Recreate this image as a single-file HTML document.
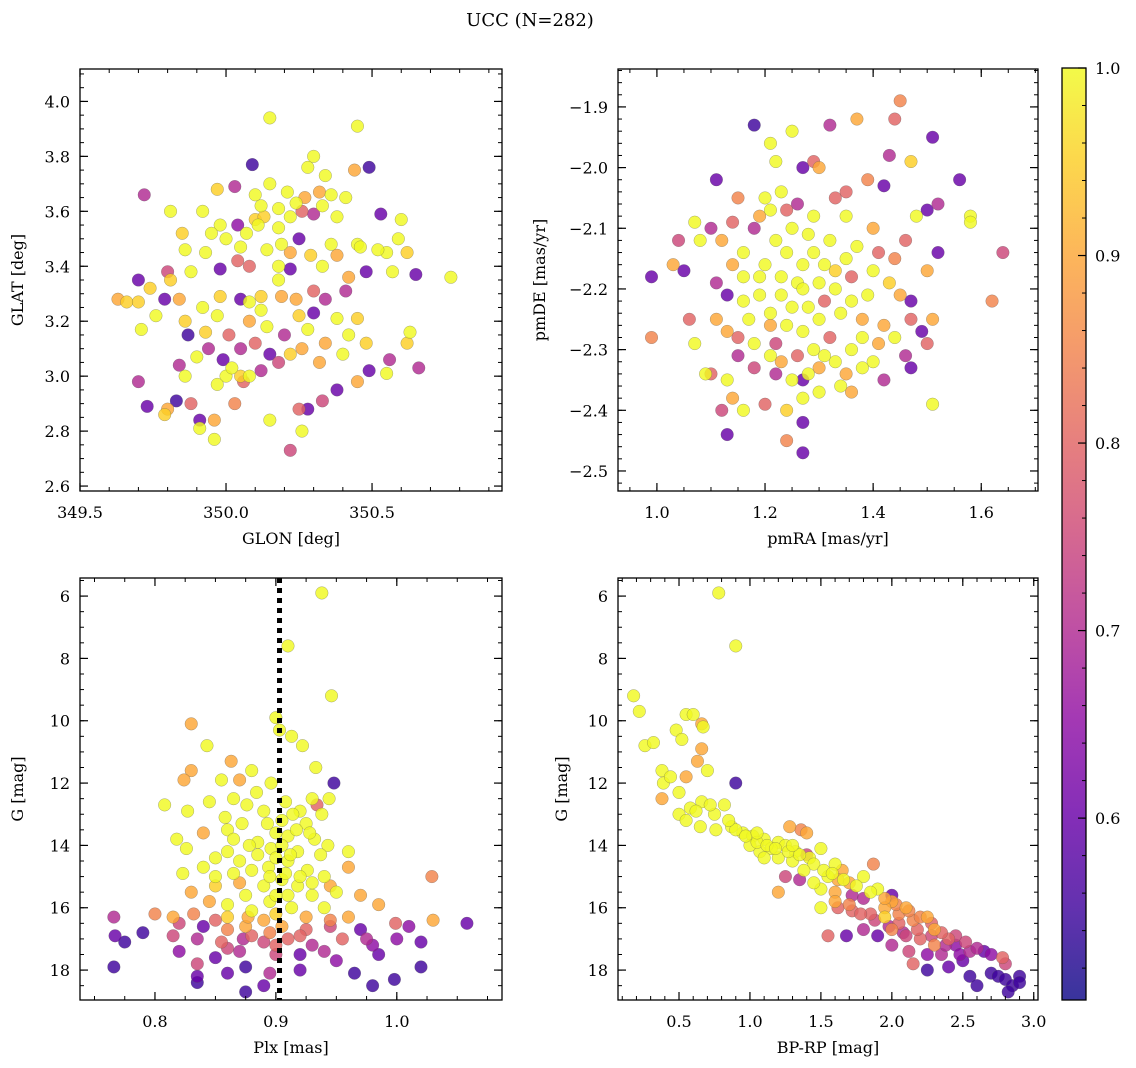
<!DOCTYPE html>
<html><head><meta charset="utf-8">
<style>
html,body{margin:0;padding:0;background:#fff;}
svg{display:block;font-family:"DejaVu Serif","Liberation Serif",serif;}
</style></head>
<body>
<svg id="fig" width="1136" height="1068" viewBox="0 0 1136 1068" xmlns="http://www.w3.org/2000/svg">
<text x="530" y="26" font-size="18" text-anchor="middle">UCC (N=282)</text>
<defs>
<linearGradient id="plasma" x1="0" y1="1" x2="0" y2="0">
<stop offset="0" stop-color="#0d0887"/><stop offset="0.1" stop-color="#41049d"/><stop offset="0.2" stop-color="#6a00a8"/><stop offset="0.3" stop-color="#8f0da4"/><stop offset="0.4" stop-color="#b12a90"/><stop offset="0.5" stop-color="#cc4778"/><stop offset="0.6" stop-color="#e16462"/><stop offset="0.7" stop-color="#f2844b"/><stop offset="0.8" stop-color="#fca636"/><stop offset="0.9" stop-color="#fcce25"/><stop offset="1" stop-color="#f0f921"/>
</linearGradient>
</defs>
</svg>
<script>
// ---- data: [x, y, membership probability] ----
const p1Points = [[350.15,3.94,1.0],[350.45,3.91,1.0],[350.09,3.77,0.55],[350.44,3.75,0.9],[350.49,3.76,0.55],[349.72,3.66,0.7],[349.81,3.60,1.0],[349.97,3.68,0.95],[350.03,3.69,0.7],[349.85,3.52,0.95],[349.92,3.60,1.0],[349.63,3.28,0.9],[349.66,3.27,0.95],[349.70,3.27,0.95],[349.70,3.35,0.6],[349.71,3.17,1.0],[349.70,2.98,0.7],[349.73,2.89,0.6],[349.79,2.86,0.95],[349.80,2.88,0.9],[349.83,2.91,0.55],[349.87,3.15,0.55],[349.91,2.84,0.6],[349.91,2.81,1.0],[349.96,2.77,1.0],[349.96,2.84,0.9],[350.0,3.0,1.0],[350.05,3.0,0.95],[350.08,3.0,1.0],[350.15,2.84,1.0],[350.22,2.73,0.75],[350.26,2.80,1.0],[350.25,2.88,0.8],[350.28,2.88,0.6],[350.33,2.91,0.75],[350.38,2.95,0.6],[350.45,2.98,0.9],[350.49,3.02,0.6],[350.55,3.01,1.0],[350.56,3.06,0.7],[350.66,3.03,0.7],[350.63,3.16,1.0],[350.62,3.12,0.95],[350.65,3.37,0.6],[350.77,3.36,1.0],[350.60,3.57,1.0],[350.59,3.50,1.0],[350.53,3.59,0.6],[350.62,3.45,0.95],[350.55,3.45,1.0],[350.45,3.48,1.0],[350.48,3.38,0.6],[350.41,3.31,0.7],[350.34,3.28,0.7],[350.30,3.23,0.6],[350.25,3.22,0.95],[350.19,3.29,0.9],[350.12,3.24,1.0],[350.05,3.28,0.6],[349.98,3.29,0.95],[349.92,3.25,1.0],[349.86,3.20,0.95],[349.81,3.35,0.95],[349.79,3.28,0.6],[349.80,3.38,0.75],[349.88,3.38,1.0],[349.93,3.45,1.0],[349.98,3.39,0.6],[350.04,3.42,0.8],[350.08,3.40,0.8],[350.14,3.46,1.0],[350.19,3.48,1.0],[350.25,3.50,0.6],[350.29,3.44,0.95],[350.36,3.48,1.0],[350.22,3.58,1.0],[350.10,3.57,0.95],[350.12,3.62,1.0],[350.15,3.70,1.0],[350.21,3.67,1.0],[350.27,3.65,0.9],[350.32,3.67,0.9],[350.36,3.66,1.0],[350.28,3.76,1.0],[350.30,3.80,1.0],[350.34,3.73,1.0],[350.04,3.55,0.65],[349.98,3.55,1.0],[350.18,3.40,1.0],[350.22,3.39,0.6],[350.26,3.60,0.8],[350.30,3.59,0.7],[350.42,3.36,0.9],[350.38,3.21,1.0],[350.45,3.21,0.95],[350.05,3.10,0.7],[350.10,3.12,0.8],[350.15,3.08,0.6],[350.20,3.15,0.7],[350.28,3.17,1.0],[350.32,3.05,0.9],[350.40,3.08,1.0],[349.94,3.10,0.7],[349.99,3.06,0.6],[350.01,3.15,0.8],[350.06,2.98,0.8],[349.86,3.00,1.0],[349.90,3.07,1.0],[350.12,3.29,0.95],[350.08,3.27,1.0],
[350.07,3.52,1.0],[350.11,3.55,1.0],[350.13,3.58,0.95],[350.18,3.61,1.0],[350.24,3.63,1.0],[350.33,3.62,1.0],[350.38,3.58,1.0],[350.41,3.65,1.0],[350.18,3.54,1.0],[350.10,3.66,1.0],[350.05,3.47,1.0],[350.00,3.50,1.0],[349.95,3.52,1.0],[349.86,3.46,1.0],[350.22,3.45,0.9],[350.33,3.40,1.0],[350.38,3.44,0.9],[350.46,3.47,1.0],[350.52,3.46,1.0],[350.57,3.38,1.0],[350.18,3.35,1.0],[350.24,3.28,0.9],[350.30,3.31,0.8],[350.14,3.18,1.0],[350.08,3.20,0.9],[349.97,3.22,1.0],[349.93,3.16,0.95],[349.84,3.28,0.9],[349.74,3.32,0.95],[349.76,3.22,1.0],[350.02,3.03,1.0],[350.12,3.02,0.7],[350.18,3.05,0.75],[350.22,3.08,0.95],[350.26,3.10,0.9],[350.34,3.12,0.9],[350.42,3.15,1.0],[350.48,3.12,0.95],[349.97,2.97,1.0],[350.03,2.90,0.85],[349.88,2.90,0.8],[349.84,3.04,0.7]];
const p2Points = [[1.45,-1.89,0.85],[1.51,-1.95,0.6],[1.18,-1.93,0.55],[1.32,-1.93,0.7],[1.37,-1.92,0.9],[1.25,-1.94,1.0],[1.44,-1.92,0.8],[1.43,-1.98,0.7],[1.47,-1.99,0.95],[1.42,-2.03,0.6],[1.39,-2.02,0.85],[1.56,-2.02,0.6],[1.52,-2.06,0.7],[1.50,-2.07,0.6],[1.58,-2.08,1.0],[1.58,-2.09,1.0],[1.11,-2.02,0.6],[1.21,-1.96,1.0],[1.22,-1.99,1.0],[1.27,-2.00,0.6],[1.29,-1.99,0.8],[1.30,-2.00,0.9],[1.20,-2.05,1.0],[1.21,-2.07,1.0],[1.24,-2.07,0.8],[1.26,-2.06,0.7],[1.33,-2.05,0.8],[1.35,-2.04,0.8],[1.07,-2.09,1.0],[1.10,-2.10,0.7],[1.14,-2.09,0.8],[1.18,-2.10,0.7],[1.25,-2.10,1.0],[1.28,-2.11,1.0],[1.32,-2.12,1.0],[1.37,-2.13,1.0],[1.41,-2.14,0.8],[1.48,-2.08,1.0],[1.52,-2.14,0.6],[1.46,-2.12,0.8],[1.50,-2.17,0.9],[1.64,-2.14,0.75],[1.62,-2.22,0.85],[1.04,-2.12,0.75],[1.05,-2.17,0.6],[1.03,-2.16,0.9],[0.99,-2.18,0.6],[1.08,-2.12,1.0],[1.12,-2.12,0.9],[1.16,-2.14,1.0],[1.20,-2.16,1.0],[1.23,-2.18,1.0],[1.27,-2.16,1.0],[1.30,-2.19,1.0],[1.33,-2.17,0.95],[1.36,-2.18,0.8],[1.40,-2.17,1.0],[1.43,-2.19,0.95],[1.45,-2.21,0.9],[1.47,-2.22,0.6],[1.11,-2.19,0.7],[1.13,-2.21,0.6],[1.16,-2.22,1.0],[1.19,-2.21,1.0],[1.21,-2.24,1.0],[1.25,-2.23,1.0],[1.28,-2.23,1.0],[1.31,-2.22,0.8],[1.34,-2.24,1.0],[1.38,-2.25,0.9],[1.42,-2.26,0.9],[1.47,-2.25,0.8],[1.49,-2.27,0.6],[1.50,-2.29,0.8],[1.51,-2.25,0.9],[1.06,-2.25,0.8],[1.07,-2.29,1.0],[1.11,-2.25,0.9],[1.15,-2.28,0.8],[1.18,-2.29,1.0],[1.22,-2.29,0.75],[1.26,-2.31,0.8],[1.29,-2.30,1.0],[1.32,-2.28,0.8],[1.36,-2.30,1.0],[1.40,-2.32,1.0],[1.46,-2.31,0.7],[1.47,-2.33,0.6],[0.99,-2.28,0.85],[1.10,-2.34,0.8],[1.13,-2.35,1.0],[1.15,-2.31,0.7],[1.18,-2.33,0.75],[1.22,-2.34,0.7],[1.25,-2.35,1.0],[1.27,-2.35,0.6],[1.30,-2.37,1.0],[1.34,-2.36,1.0],[1.36,-2.37,0.9],[1.42,-2.35,0.7],[1.51,-2.39,1.0],[1.12,-2.40,0.75],[1.16,-2.40,1.0],[1.20,-2.39,0.8],[1.24,-2.40,0.95],[1.27,-2.38,1.0],[1.13,-2.44,0.6],[1.24,-2.45,0.85],[1.27,-2.42,0.6],[1.27,-2.47,0.6],[1.14,-2.38,0.9],[1.09,-2.34,1.0],
[1.24,-2.14,1.0],[1.26,-2.19,1.0],[1.29,-2.14,1.0],[1.31,-2.16,1.0],[1.35,-2.15,1.0],[1.22,-2.12,1.0],[1.19,-2.18,1.0],[1.23,-2.21,1.0],[1.27,-2.20,1.0],[1.30,-2.25,1.0],[1.33,-2.20,1.0],[1.36,-2.22,1.0],[1.39,-2.21,1.0],[1.24,-2.26,1.0],[1.27,-2.27,1.0],[1.21,-2.26,0.9],[1.17,-2.25,1.0],[1.13,-2.27,0.9],[1.33,-2.32,1.0],[1.30,-2.33,0.9],[1.38,-2.28,1.0],[1.41,-2.29,0.9],[1.44,-2.28,1.0],[1.21,-2.31,1.0],[1.23,-2.32,0.9],[1.28,-2.34,1.0],[1.31,-2.31,1.0],[1.35,-2.34,0.9],[1.38,-2.33,1.0],[1.16,-2.18,1.0],[1.14,-2.16,0.9],[1.40,-2.10,0.9],[1.44,-2.15,0.85],[1.35,-2.08,1.0],[1.29,-2.08,1.0],[1.23,-2.04,1.0],[1.19,-2.08,0.9],[1.15,-2.05,0.85]];
const p3Points = [[0.938,5.9,1.0],[0.91,7.6,1.0],[0.946,9.2,1.0],[0.830,10.1,0.9],[0.900,9.9,1.0],[0.903,10.3,1.0],[0.913,10.5,1.0],[0.922,10.8,1.0],[0.843,10.8,1.0],[0.863,11.3,0.9],[0.933,11.5,1.0],[0.830,11.6,0.9],[0.824,11.9,0.9],[0.855,11.9,1.0],[0.880,11.6,1.0],[0.948,12.0,0.55],[0.808,12.7,1.0],[0.827,12.9,1.0],[0.845,12.6,1.0],[0.884,12.3,1.0],[0.896,12.0,1.0],[0.934,12.7,0.8],[0.944,12.5,1.0],[0.92,12.9,1.0],[0.938,13.0,1.0],[0.905,13.2,1.0],[0.893,13.3,1.0],[0.872,13.3,1.0],[0.858,13.1,1.0],[0.86,13.5,1.0],[0.84,13.6,0.9],[0.818,13.8,1.0],[0.826,14.1,1.0],[0.885,13.9,1.0],[0.896,14.1,1.0],[0.91,13.7,1.0],[0.918,14.2,1.0],[0.932,13.8,1.0],[0.943,14.0,1.0],[0.96,14.2,1.0],[0.86,14.2,1.0],[0.87,14.5,1.0],[0.894,14.7,1.0],[0.91,14.5,1.0],[0.926,14.8,1.0],[0.94,15.0,1.0],[0.96,14.7,0.9],[0.84,14.7,1.0],[0.823,14.9,1.0],[0.85,15.0,1.0],[0.87,15.2,0.9],[0.89,15.3,1.0],[0.905,15.1,1.0],[0.918,15.3,1.0],[0.93,15.6,1.0],[0.95,15.5,1.0],[0.97,15.6,0.9],[0.985,15.9,0.9],[1.029,15.0,0.85],[0.83,15.5,0.9],[0.845,15.8,0.9],[0.86,15.9,1.0],[0.88,16.1,1.0],[0.895,15.8,1.0],[0.913,16.0,1.0],[0.94,16.0,1.0],[0.96,16.3,0.9],[0.8,16.2,0.85],[0.766,16.3,0.7],[0.82,16.5,0.75],[0.84,16.6,0.6],[0.86,16.7,0.85],[0.875,16.6,0.9],[0.89,16.4,0.9],[0.905,16.6,0.9],[0.925,16.7,0.8],[0.945,16.6,0.75],[0.97,16.7,0.6],[0.999,16.5,0.8],[1.03,16.4,0.9],[1.058,16.5,0.6],[1.01,16.6,0.65],[0.767,16.9,0.6],[0.79,16.8,0.55],[0.815,16.9,0.75],[0.835,17.0,0.7],[0.855,17.1,0.8],[0.873,17.0,0.7],[0.89,17.1,0.75],[0.91,17.0,0.8],[0.93,17.2,0.7],[0.955,17.0,0.8],[0.98,17.2,0.65],[1.0,17.0,0.65],[1.02,17.1,0.6],[0.775,17.1,0.55],[0.82,17.4,0.65],[0.85,17.6,0.6],[0.87,17.4,0.7],[0.9,17.5,0.75],[0.92,17.5,0.6],[0.95,17.7,0.65],[0.985,17.5,0.6],[0.766,17.9,0.55],[0.835,17.8,0.75],[0.86,18.1,0.6],[0.875,17.9,0.55],[0.895,18.1,0.7],[0.92,18.0,0.6],[0.965,18.1,0.55],[0.998,18.3,0.55],[1.02,17.9,0.55],[0.835,18.4,0.55],[0.875,18.7,0.55],[0.89,18.5,0.6],[0.98,18.5,0.55],[0.835,18.2,0.6],
[0.908,12.6,1.0],[0.914,13.0,1.0],[0.925,13.3,1.0],[0.93,12.5,1.0],[0.9,13.6,1.0],[0.917,13.5,1.0],[0.928,13.6,1.0],[0.937,14.3,1.0],[0.905,14.0,1.0],[0.912,14.3,1.0],[0.9,14.4,1.0],[0.885,14.3,1.0],[0.878,14.0,1.0],[0.865,13.8,1.0],[0.85,14.4,1.0],[0.92,15.0,1.0],[0.908,14.9,1.0],[0.895,15.0,1.0],[0.88,14.8,1.0],[0.865,14.9,1.0],[0.85,15.3,0.95],[0.93,15.2,1.0],[0.945,15.3,0.9],[0.91,15.6,1.0],[0.9,15.6,1.0],[0.875,15.6,1.0],[0.86,16.3,0.95],[0.877,16.3,0.9],[0.9,16.2,0.95],[0.925,16.3,0.9],[0.945,16.4,0.85],[0.85,16.4,0.8],[0.832,16.2,0.85],[0.815,16.3,0.9],[0.895,16.8,0.85],[0.92,16.9,0.8],[0.88,16.9,0.8],[0.86,17.3,0.75],[0.9,17.2,0.8],[0.94,17.4,0.7],[0.975,17.0,0.7],[0.89,12.9,1.0],[0.876,12.7,1.0],[0.865,12.5,1.0],[0.87,11.9,0.9]];
const p4Points = [[0.18,9.2,1.0],[0.22,9.7,1.0],[0.26,10.8,1.0],[0.32,10.7,1.0],[0.78,5.9,1.0],[0.9,7.6,1.0],[0.55,9.8,1.0],[0.6,9.8,1.0],[0.66,10.1,0.9],[0.67,10.2,1.0],[0.48,10.3,1.0],[0.52,10.6,1.0],[0.66,10.9,0.9],[0.38,11.6,1.0],[0.39,12.0,1.0],[0.38,12.5,0.9],[0.5,12.3,1.0],[0.55,11.8,0.9],[0.63,11.3,0.9],[0.7,11.6,1.0],[0.9,12.0,0.55],[0.5,13.0,1.0],[0.58,12.8,1.0],[0.66,12.6,1.0],[0.75,13.0,1.0],[0.82,12.7,1.0],[0.55,13.2,1.0],[0.65,13.4,1.0],[0.76,13.5,1.0],[0.87,13.4,1.0],[0.95,13.6,1.0],[1.02,13.7,1.0],[1.1,13.8,1.0],[1.2,13.9,1.0],[1.28,13.4,0.9],[1.36,13.5,0.85],[1.4,13.6,0.9],[1.5,14.1,1.0],[1.15,14.1,1.0],[1.25,14.0,1.0],[1.32,14.2,1.0],[1.42,14.4,1.0],[1.2,14.4,1.0],[1.3,14.5,1.0],[1.4,14.3,0.75],[1.07,14.2,1.0],[1.0,14.0,1.0],[1.25,15.0,0.75],[1.35,15.1,0.7],[1.6,14.6,1.0],[1.65,14.8,0.9],[1.55,15.0,1.0],[1.62,15.1,0.9],[1.7,15.2,0.9],[1.8,15.0,1.0],[1.87,14.6,0.85],[1.5,15.4,1.0],[1.6,15.5,0.9],[1.72,15.6,0.7],[1.8,15.7,0.7],[1.9,15.4,1.0],[2.0,15.6,0.6],[2.0,15.8,0.9],[1.5,16.0,1.0],[1.62,16.0,0.8],[1.72,16.1,0.8],[1.85,16.2,0.8],[1.95,16.0,0.9],[2.05,16.2,0.85],[2.1,16.0,0.9],[2.15,16.4,0.85],[2.25,16.3,0.9],[2.3,16.7,0.9],[1.2,15.5,0.9],[1.55,16.9,0.8],[1.68,16.9,0.6],[1.8,16.7,0.7],[1.9,16.9,0.6],[2.0,16.7,0.85],[2.1,16.9,0.75],[2.2,17.0,0.8],[2.3,17.2,0.85],[2.4,17.0,0.8],[2.0,17.2,0.7],[2.12,17.4,0.75],[2.25,17.5,0.65],[2.35,17.5,0.7],[2.45,17.2,0.65],[2.55,17.4,0.7],[2.65,17.4,0.6],[2.78,17.6,0.8],[2.8,17.8,0.75],[2.5,17.7,0.6],[2.4,17.9,0.6],[2.25,18.0,0.55],[2.15,17.8,0.8],[2.55,18.2,0.55],[2.7,18.1,0.55],[2.75,18.2,0.55],[2.8,18.3,0.55],[2.9,18.2,0.55],[2.6,18.5,0.55],[2.85,18.5,0.55],[2.9,18.4,0.55],[2.82,18.7,0.55],[1.95,16.3,0.95],[2.05,16.5,0.8],
[0.9,13.5,1.0],[0.97,13.7,1.0],[1.05,13.9,1.0],[1.12,14.0,1.0],[1.18,14.1,1.0],[1.27,14.2,1.0],[1.35,14.3,1.0],[1.45,14.6,1.0],[1.52,14.8,1.0],[1.58,14.9,1.0],[1.66,15.1,1.0],[1.75,15.3,1.0],[1.85,15.5,1.0],[1.95,15.7,0.9],[2.03,15.9,0.85],[2.12,16.1,0.85],[2.2,16.3,0.85],[2.28,16.5,0.8],[2.35,16.8,0.8],[2.45,16.9,0.75],[2.52,17.1,0.75],[2.6,17.3,0.7],[2.7,17.5,0.65],[1.7,15.9,0.85],[1.78,16.2,0.8],[1.88,16.4,0.75],[1.98,16.6,0.7],[2.08,16.8,0.7],[2.18,16.7,0.8],[2.28,16.9,0.75],[2.38,17.2,0.7],[2.48,17.5,0.65],[1.6,15.8,0.9],[1.45,15.2,1.0],[1.38,14.8,1.0],[1.3,14.0,1.0],[1.1,14.4,1.0],[1.05,13.6,1.0],[0.85,13.2,1.0],[0.72,12.7,1.0],[0.62,12.9,1.0],[0.44,11.8,1.0]];
const p1XTicks = [349.5, 350.0, 350.5];
const p1YTicks = [2.6, 2.8, 3.0, 3.2, 3.4, 3.6, 3.8, 4.0];
const p2XTicks = [1.0, 1.2, 1.4, 1.6];
const p2YTicks = [-2.5, -2.4, -2.3, -2.2, -2.1, -2.0, -1.9];
const p3XTicks = [0.8, 0.9, 1.0];
const gTicks = [6, 8, 10, 12, 14, 16, 18];
const p4XTicks = [0.5, 1.0, 1.5, 2.0, 2.5, 3.0];
const cbarTicks = [0.6, 0.7, 0.8, 0.9, 1.0];
const plxMarker = [0.903];
const probRange = [0.503, 1.0];

const NS = 'http://www.w3.org/2000/svg';
const svg = document.getElementById('fig');
function el(tag, attrs, parent) {
  const e = document.createElementNS(NS, tag);
  for (const k in attrs) e.setAttribute(k, attrs[k]);
  (parent || svg).appendChild(e);
  return e;
}
const stops = [[13,8,135],[65,4,157],[106,0,168],[143,13,164],[177,42,144],[204,71,120],[225,100,98],[242,132,75],[252,166,54],[252,206,37],[240,249,33]];
function plasma(p) {
  let t = (p - probRange[0]) / (probRange[1] - probRange[0]);
  t = Math.max(0, Math.min(1, t)) * 10;
  const i = Math.min(9, Math.floor(t)), f = t - i;
  const a = stops[i], b = stops[i + 1];
  return 'rgb(' + a.map((v, k) => Math.round(v + (b[k] - v) * f)).join(',') + ')';
}
function fmt(v, d) { return v < 0 ? '\u2212' + Math.abs(v).toFixed(d) : v.toFixed(d); }

function panel(o) {
  const g = el('g', {});
  
  
  const sx = v => o.x0 + (v - o.xmin) / (o.xmax - o.xmin) * (o.x1 - o.x0);
  const sy = o.invert ? (v => o.y0 + (v - o.ymin) / (o.ymax - o.ymin) * (o.y1 - o.y0))
                      : (v => o.y1 - (v - o.ymin) / (o.ymax - o.ymin) * (o.y1 - o.y0));
  const clip = el('clipPath', { id: o.name + '-clip' }, g);
  el('rect', { x: o.x0, y: o.y0, width: o.x1 - o.x0, height: o.y1 - o.y0 }, clip);
  const pts = el('g', { 'clip-path': 'url(#' + o.name + '-clip)' }, g);
  
  
  const sorted = o.data.slice().sort((a, b) => a[2] - b[2]);
  sorted.forEach(d => {
    const c = el('circle', { cx: sx(d[0]), cy: sy(d[1]), r: 6.3, fill: plasma(d[2]), 'fill-opacity': 0.82, stroke: '#555', 'stroke-opacity': 0.5, 'stroke-width': 0.5 }, pts);
    
    
  });
  if (o.vline) o.vline.forEach(v => {
    const l = el('line', { x1: sx(v), x2: sx(v), y1: o.y0, y2: o.y1, stroke: '#000', 'stroke-width': 5, 'stroke-dasharray': '5 5' }, g);
    
    
  });
  for (let v = Math.ceil(o.xmin / o.xminor - 1e-9) * o.xminor; v <= o.xmax + 1e-9; v += o.xminor) {
    const x = sx(v);
    el('line', { x1: x, x2: x, y1: o.y1, y2: o.y1 - 4, stroke: '#000', 'stroke-width': 1 }, g);
    el('line', { x1: x, x2: x, y1: o.y0, y2: o.y0 + 4, stroke: '#000', 'stroke-width': 1 }, g);
  }
  for (let v = Math.ceil(o.ymin / o.yminor - 1e-9) * o.yminor; v <= o.ymax + 1e-9; v += o.yminor) {
    const y = sy(v);
    el('line', { x1: o.x0, x2: o.x0 + 4, y1: y, y2: y, stroke: '#000', 'stroke-width': 1 }, g);
    el('line', { x1: o.x1, x2: o.x1 - 4, y1: y, y2: y, stroke: '#000', 'stroke-width': 1 }, g);
  }
  o.xticks.forEach(v => {
    const x = sx(v);
    el('line', { x1: x, x2: x, y1: o.y1, y2: o.y1 - 8, stroke: '#000', 'stroke-width': 1.2 }, g);
    el('line', { x1: x, x2: x, y1: o.y0, y2: o.y0 + 8, stroke: '#000', 'stroke-width': 1.2 }, g);
    const t = el('text', { x: x, y: o.y1 + 27, 'font-size': 16, 'text-anchor': 'middle' }, g);
    t.textContent = fmt(v, o.xdec);
    
    
  });
  o.yticks.forEach(v => {
    const y = sy(v);
    el('line', { x1: o.x0, x2: o.x0 + 8, y1: y, y2: y, stroke: '#000', 'stroke-width': 1.2 }, g);
    el('line', { x1: o.x1, x2: o.x1 - 8, y1: y, y2: y, stroke: '#000', 'stroke-width': 1.2 }, g);
    const t = el('text', { x: o.x0 - 10, y: y + 6, 'font-size': 16, 'text-anchor': 'end' }, g);
    t.textContent = fmt(v, o.ydec);
    
    
  });
  el('rect', { x: o.x0, y: o.y0, width: o.x1 - o.x0, height: o.y1 - o.y0, fill: 'none', stroke: '#000', 'stroke-width': 1.3 }, g);
  const xl = el('text', { x: (o.x0 + o.x1) / 2, y: o.y1 + 53, 'font-size': 16, 'text-anchor': 'middle' }, g);
  xl.textContent = o.xlabel;
  
  
  const ly = (o.y0 + o.y1) / 2;
  const yl = el('text', { x: o.ylx, y: ly, 'font-size': 16, 'text-anchor': 'middle', transform: 'rotate(-90 ' + o.ylx + ' ' + ly + ')' }, g);
  yl.textContent = o.ylabel;
  
  
}

panel({ name: 'glon-glat-panel', data: p1Points, x0: 80, x1: 502, y0: 69, y1: 491, xmin: 349.5, xmax: 350.945, ymin: 2.582, ymax: 4.118,
  xticks: p1XTicks, yticks: p1YTicks, xminor: 0.1, yminor: 0.05, xdec: 1, ydec: 1, xlabel: 'GLON [deg]', ylabel: 'GLAT [deg]', ylx: 23 });
panel({ name: 'pm-panel', data: p2Points, x0: 618, x1: 1038, y0: 69, y1: 491, xmin: 0.928, xmax: 1.705, ymin: -2.533, ymax: -1.8375,
  xticks: p2XTicks, yticks: p2YTicks, xminor: 0.05, yminor: 0.02, xdec: 1, ydec: 1, xlabel: 'pmRA [mas/yr]', ylabel: 'pmDE [mas/yr]', ylx: 545 });
panel({ name: 'plx-g-panel', data: p3Points, x0: 80, x1: 502, y0: 578, y1: 1000, xmin: 0.738, xmax: 1.087, ymin: 5.42, ymax: 18.96, invert: true,
  xticks: p3XTicks, yticks: gTicks, xminor: 0.025, yminor: 0.5, xdec: 1, ydec: 0, xlabel: 'Plx [mas]', ylabel: 'G [mag]', ylx: 23, vline: plxMarker });
panel({ name: 'cmd-panel', data: p4Points, x0: 618, x1: 1038, y0: 578, y1: 1000, xmin: 0.07, xmax: 3.03, ymin: 5.42, ymax: 18.96, invert: true,
  xticks: p4XTicks, yticks: gTicks, xminor: 0.1, yminor: 0.5, xdec: 1, ydec: 0, xlabel: 'BP-RP [mag]', ylabel: 'G [mag]', ylx: 567 });

const cb = el('g', {});


const cbY0 = 68, cbY1 = 1000, cbX0 = 1062, cbX1 = 1086;
const cy = v => cbY1 - (v - probRange[0]) / (probRange[1] - probRange[0]) * (cbY1 - cbY0);
el('rect', { x: cbX0, y: cbY0, width: cbX1 - cbX0, height: cbY1 - cbY0, fill: 'url(#plasma)', 'fill-opacity': 0.82 }, cb);
for (let v = 0.52; v <= 1.0001; v += 0.02) {
  el('line', { x1: cbX1, x2: cbX1 - 4, y1: cy(v), y2: cy(v), stroke: '#000', 'stroke-width': 1 }, cb);
}
cbarTicks.forEach(v => {
  el('line', { x1: cbX1, x2: cbX1 - 8, y1: cy(v), y2: cy(v), stroke: '#000', 'stroke-width': 1.2 }, cb);
  const t = el('text', { x: cbX1 + 9, y: cy(v) + 6, 'font-size': 16 }, cb);
  t.textContent = v.toFixed(1);
  
  
});
el('rect', { x: cbX0, y: cbY0, width: cbX1 - cbX0, height: cbY1 - cbY0, fill: 'none', stroke: '#000', 'stroke-width': 1.3 }, cb);
</script>
</body></html>
